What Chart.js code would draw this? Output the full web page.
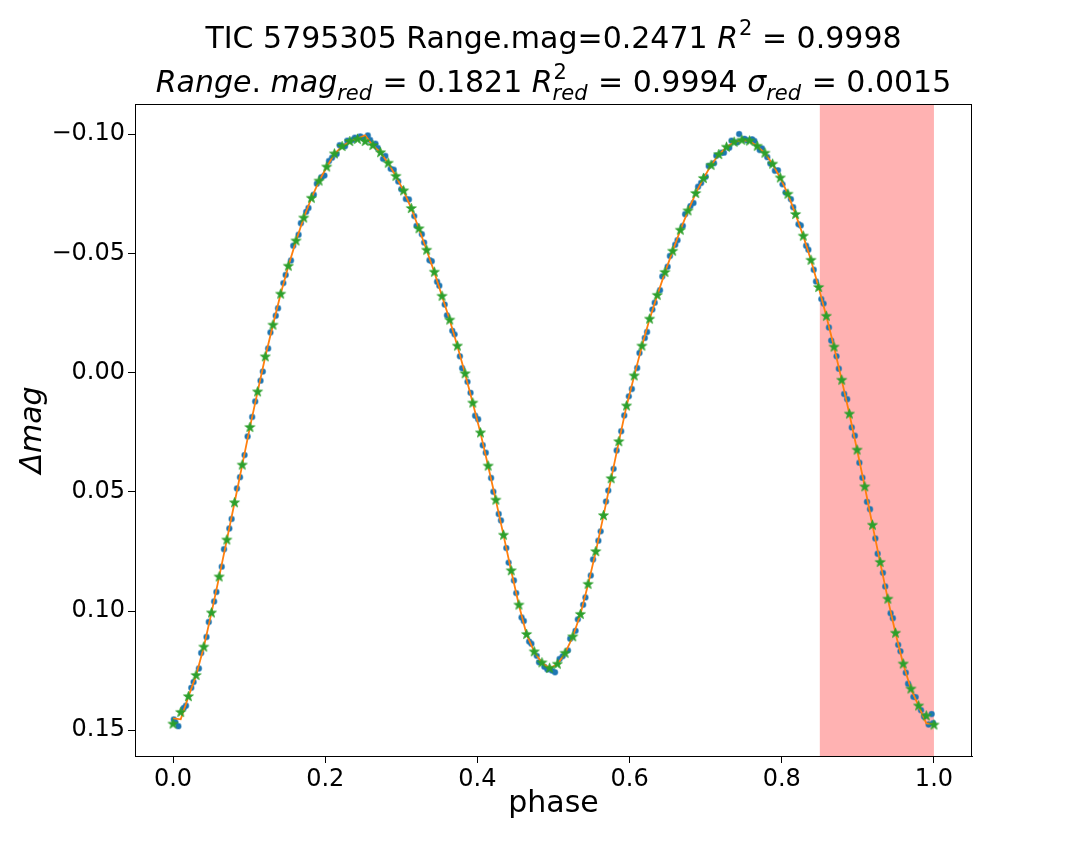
<!DOCTYPE html>
<html>
<head>
<meta charset="utf-8">
<script src="https://cdn.jsdelivr.net/npm/chart.js@4.4.1/dist/chart.umd.min.js"></script>
<style>
  body { margin: 0; background: #fff; }
  #canvas { display: block; }
</style>
</head>
<body>
<canvas id="canvas" width="1080" height="864"></canvas>
<script>
// phase bins (green stars) and binned delta mag
const starPhase = [
  0.0000, 0.0101, 0.0202, 0.0303, 0.0404, 0.0505, 0.0606, 0.0707, 0.0808, 0.0909,
  0.1010, 0.1111, 0.1212, 0.1313, 0.1414, 0.1515, 0.1616, 0.1717, 0.1818, 0.1919,
  0.2020, 0.2121, 0.2222, 0.2323, 0.2424, 0.2525, 0.2626, 0.2727, 0.2828, 0.2929,
  0.3030, 0.3131, 0.3232, 0.3333, 0.3434, 0.3535, 0.3636, 0.3737, 0.3838, 0.3939,
  0.4040, 0.4141, 0.4242, 0.4343, 0.4444, 0.4545, 0.4646, 0.4747, 0.4848, 0.4949,
  0.5051, 0.5152, 0.5253, 0.5354, 0.5455, 0.5556, 0.5657, 0.5758, 0.5859, 0.5960,
  0.6061, 0.6162, 0.6263, 0.6364, 0.6465, 0.6566, 0.6667, 0.6768, 0.6869, 0.6970,
  0.7071, 0.7172, 0.7273, 0.7374, 0.7475, 0.7576, 0.7677, 0.7778, 0.7879, 0.7980,
  0.8081, 0.8182, 0.8283, 0.8384, 0.8485, 0.8586, 0.8687, 0.8788, 0.8889, 0.8990,
  0.9091, 0.9192, 0.9293, 0.9394, 0.9495, 0.9596, 0.9697, 0.9798, 0.9899, 1.0000
];
const starMag = [
  0.1474, 0.1425, 0.1359, 0.1270, 0.1151, 0.1008, 0.0857, 0.0702, 0.0546, 0.0388,
  0.0230, 0.0081, -0.0066, -0.0199, -0.0329, -0.0446, -0.0552, -0.0648, -0.0731, -0.0803,
  -0.0862, -0.0917, -0.0948, -0.0969, -0.0978, -0.0969, -0.0952, -0.0922, -0.0878, -0.0823,
  -0.0762, -0.0688, -0.0603, -0.0513, -0.0421, -0.0320, -0.0220, -0.0111, 0.0005, 0.0128,
  0.0253, 0.0392, 0.0535, 0.0682, 0.0831, 0.0975, 0.1098, 0.1171, 0.1217, 0.1240,
  0.1223, 0.1177, 0.1108, 0.1014, 0.0888, 0.0751, 0.0600, 0.0445, 0.0290, 0.0140,
  0.0014, -0.0111, -0.0224, -0.0324, -0.0420, -0.0509, -0.0597, -0.0678, -0.0751, -0.0814,
  -0.0869, -0.0914, -0.0945, -0.0966, -0.0974, -0.0971, -0.0949, -0.0920, -0.0874, -0.0816,
  -0.0748, -0.0663, -0.0572, -0.0471, -0.0357, -0.0236, -0.0107, 0.0032, 0.0174, 0.0325,
  0.0479, 0.0640, 0.0796, 0.0950, 0.1093, 0.1222, 0.1327, 0.1398, 0.1440, 0.1478
];
// fitted curve (orange) on the same phase grid
const fitMag = [
  0.1450, 0.1454, 0.1359, 0.1270, 0.1151, 0.1008, 0.0857, 0.0702, 0.0546, 0.0388,
  0.0230, 0.0081, -0.0066, -0.0199, -0.0329, -0.0446, -0.0552, -0.0648, -0.0731, -0.0803,
  -0.0862, -0.0917, -0.0948, -0.0969, -0.0981, -0.0995, -0.0952, -0.0922, -0.0878, -0.0823,
  -0.0762, -0.0688, -0.0603, -0.0513, -0.0421, -0.0320, -0.0220, -0.0111, 0.0005, 0.0128,
  0.0253, 0.0392, 0.0535, 0.0682, 0.0831, 0.0975, 0.1098, 0.1171, 0.1217, 0.1240,
  0.1223, 0.1177, 0.1108, 0.1014, 0.0888, 0.0751, 0.0600, 0.0445, 0.0290, 0.0140,
  0.0014, -0.0111, -0.0224, -0.0324, -0.0420, -0.0509, -0.0597, -0.0678, -0.0751, -0.0814,
  -0.0869, -0.0914, -0.0945, -0.0966, -0.0974, -0.0971, -0.0949, -0.0920, -0.0874, -0.0816,
  -0.0748, -0.0663, -0.0572, -0.0471, -0.0357, -0.0236, -0.0107, 0.0032, 0.0174, 0.0325,
  0.0479, 0.0640, 0.0796, 0.0950, 0.1093, 0.1222, 0.1327, 0.1398, 0.1471, 0.1474
];
// raw observations (blue dots)
const dotPhase = [
  0.003, 0.007, 0.014, 0.017, 0.024, 0.027, 0.034, 0.037, 0.044, 0.047,
  0.054, 0.057, 0.064, 0.067, 0.074, 0.077, 0.084, 0.088, 0.094, 0.098,
  0.104, 0.108, 0.115, 0.118, 0.125, 0.128, 0.135, 0.138, 0.145, 0.148,
  0.155, 0.158, 0.165, 0.168, 0.175, 0.178, 0.185, 0.189, 0.195, 0.199,
  0.205, 0.209, 0.215, 0.219, 0.226, 0.229, 0.236, 0.239, 0.246, 0.249,
  0.256, 0.259, 0.266, 0.269, 0.276, 0.279, 0.286, 0.290, 0.296, 0.300,
  0.306, 0.310, 0.317, 0.320, 0.327, 0.330, 0.337, 0.340, 0.347, 0.350,
  0.357, 0.360, 0.367, 0.370, 0.377, 0.380, 0.387, 0.391, 0.397, 0.401,
  0.407, 0.411, 0.418, 0.421, 0.428, 0.431, 0.438, 0.441, 0.448, 0.451,
  0.458, 0.461, 0.468, 0.471, 0.478, 0.481, 0.488, 0.492, 0.498, 0.502,
  0.508, 0.512, 0.519, 0.522, 0.529, 0.532, 0.539, 0.542, 0.549, 0.552,
  0.559, 0.562, 0.569, 0.572, 0.579, 0.583, 0.589, 0.593, 0.599, 0.603,
  0.610, 0.613, 0.620, 0.623, 0.630, 0.633, 0.640, 0.643, 0.650, 0.653,
  0.660, 0.663, 0.670, 0.673, 0.680, 0.684, 0.690, 0.694, 0.700, 0.704,
  0.711, 0.714, 0.721, 0.724, 0.731, 0.734, 0.741, 0.744, 0.751, 0.754,
  0.761, 0.764, 0.771, 0.774, 0.781, 0.785, 0.791, 0.795, 0.801, 0.805,
  0.812, 0.815, 0.822, 0.825, 0.832, 0.835, 0.842, 0.845, 0.852, 0.855,
  0.862, 0.865, 0.872, 0.875, 0.882, 0.886, 0.892, 0.896, 0.902, 0.906,
  0.912, 0.916, 0.923, 0.926, 0.933, 0.936, 0.943, 0.946, 0.953, 0.956,
  0.963, 0.966, 0.973, 0.976, 0.983, 0.987, 0.993, 0.997, 0.001, 0.999
];
const dotMag = [
  0.1466, 0.1483, 0.1407, 0.1397, 0.1322, 0.1298, 0.1241, 0.1176, 0.1109, 0.1046,
  0.0960, 0.0920, 0.0814, 0.0741, 0.0654, 0.0614, 0.0486, 0.0439, 0.0346, 0.0268,
  0.0186, 0.0121, 0.0034, -0.0004, -0.0101, -0.0168, -0.0238, -0.0270, -0.0375, -0.0409,
  -0.0470, -0.0532, -0.0578, -0.0626, -0.0674, -0.0690, -0.0746, -0.0792, -0.0819, -0.0826,
  -0.0887, -0.0901, -0.0916, -0.0953, -0.0949, -0.0972, -0.0975, -0.0985, -0.0990, -0.0985,
  -0.0994, -0.0975, -0.0960, -0.0942, -0.0896, -0.0908, -0.0854, -0.0851, -0.0801, -0.0769,
  -0.0728, -0.0726, -0.0656, -0.0615, -0.0580, -0.0545, -0.0471, -0.0467, -0.0381, -0.0364,
  -0.0285, -0.0240, -0.0175, -0.0160, -0.0068, -0.0018, 0.0039, 0.0085, 0.0181, 0.0196,
  0.0305, 0.0336, 0.0442, 0.0500, 0.0593, 0.0620, 0.0736, 0.0797, 0.0872, 0.0925,
  0.1027, 0.1042, 0.1128, 0.1137, 0.1188, 0.1215, 0.1234, 0.1245, 0.1250, 0.1257,
  0.1201, 0.1190, 0.1165, 0.1116, 0.1083, 0.1035, 0.0974, 0.0943, 0.0851, 0.0784,
  0.0705, 0.0666, 0.0541, 0.0495, 0.0404, 0.0327, 0.0246, 0.0180, 0.0100, 0.0069,
  -0.0019, -0.0082, -0.0145, -0.0170, -0.0264, -0.0293, -0.0345, -0.0403, -0.0444, -0.0489,
  -0.0536, -0.0555, -0.0615, -0.0664, -0.0698, -0.0711, -0.0779, -0.0795, -0.0821, -0.0866,
  -0.0878, -0.0909, -0.0922, -0.0922, -0.0943, -0.0972, -0.0965, -0.1000, -0.0980, -0.0974,
  -0.0978, -0.0971, -0.0933, -0.0940, -0.0903, -0.0876, -0.0846, -0.0848, -0.0789, -0.0755,
  -0.0727, -0.0693, -0.0622, -0.0617, -0.0532, -0.0515, -0.0431, -0.0382, -0.0308, -0.0289,
  -0.0189, -0.0134, -0.0068, -0.0016, 0.0090, 0.0112, 0.0230, 0.0265, 0.0378, 0.0441,
  0.0542, 0.0573, 0.0696, 0.0760, 0.0840, 0.0897, 0.1009, 0.1030, 0.1142, 0.1169,
  0.1259, 0.1305, 0.1360, 0.1361, 0.1416, 0.1442, 0.1476, 0.1432, 0.1455, 0.1470
];
const phaseTicks = [0.0, 0.2, 0.4, 0.6, 0.8, 1.0];
const magTicks = [-0.10, -0.05, 0.00, 0.05, 0.10, 0.15];
const redBand = [0.85, 1.0];

const FONT = "'DejaVu Sans', sans-serif";

// filled star marker like matplotlib '*'
function makeStar(r, fill, edge) {
  const c = document.createElement('canvas');
  const s = Math.ceil(r * 2 + 4);
  c.width = s; c.height = s;
  const g = c.getContext('2d');
  g.beginPath();
  for (let i = 0; i < 10; i++) {
    const rr = i % 2 === 0 ? r : r * 0.4;
    const a = -Math.PI / 2 + i * Math.PI / 5;
    const px = s / 2 + rr * Math.cos(a), py = s / 2 + rr * Math.sin(a);
    if (i === 0) g.moveTo(px, py); else g.lineTo(px, py);
  }
  g.closePath();
  g.fillStyle = fill; g.fill();
  g.strokeStyle = edge; g.lineWidth = 0.8; g.stroke();
  return c;
}
const starImg = makeStar(5.2, '#2ca02c', '#2ca02c');

// rich text for the math-like title
function segWidth(g, s, size, small) {
  if (s.sup !== undefined || s.sub !== undefined) {
    g.font = small + 'px ' + FONT;
    const w1 = s.sup !== undefined ? g.measureText(s.sup).width : 0;
    g.font = 'italic ' + small + 'px ' + FONT;
    const w2 = s.sub !== undefined ? g.measureText(s.sub).width : 0;
    return Math.max(w1, w2) + 1;
  }
  g.font = (s.i ? 'italic ' : '') + size + 'px ' + FONT;
  return g.measureText(s.t).width;
}
function drawRich(g, segs, cx, y, size) {
  const small = Math.round(size * 0.7);
  let total = 0;
  segs.forEach(s => { total += segWidth(g, s, size, small); });
  let x = cx - total / 2;
  g.fillStyle = '#000';
  g.textBaseline = 'alphabetic';
  g.textAlign = 'left';
  segs.forEach(s => {
    const w = segWidth(g, s, size, small);
    if (s.sup !== undefined || s.sub !== undefined) {
      if (s.sup !== undefined) {
        g.font = small + 'px ' + FONT;
        g.fillText(s.sup, x + 1, y - size * 0.42);
      }
      if (s.sub !== undefined) {
        g.font = 'italic ' + small + 'px ' + FONT;
        g.fillText(s.sub, x, y + size * 0.26);
      }
    } else {
      g.font = (s.i ? 'italic ' : '') + size + 'px ' + FONT;
      g.fillText(s.t, x, y);
    }
    x += w;
  });
}

const titleLine1 = [
  { t: 'TIC 5795305 Range.mag=0.2471 ' }, { t: 'R', i: true }, { sup: '2' }, { t: ' = 0.9998' }
];
const titleLine2 = [
  { t: 'Range', i: true }, { t: '. ' }, { t: 'mag', i: true }, { sub: 'red' },
  { t: ' = 0.1821 ' }, { t: 'R', i: true }, { sup: '2', sub: 'red' },
  { t: ' = 0.9994 ' }, { t: 'σ', i: true }, { sub: 'red' }, { t: ' = 0.0015' }
];

const decorPlugin = {
  id: 'decor',
  beforeDraw(chart) {
    const g = chart.ctx;
    g.save();
    g.fillStyle = '#fff';
    g.fillRect(0, 0, chart.width, chart.height);
    g.restore();
  },
  beforeDatasetsDraw(chart) {
    const g = chart.ctx, a = chart.chartArea, xs = chart.scales.x;
    const x0 = xs.getPixelForValue(redBand[0]), x1 = xs.getPixelForValue(redBand[1]);
    g.save();
    g.fillStyle = 'rgba(255,0,0,0.3)';
    g.fillRect(x0, a.top, x1 - x0, a.bottom - a.top);
    g.restore();
  },
  afterDraw(chart) {
    const g = chart.ctx, a = chart.chartArea;
    g.save();
    g.strokeStyle = '#000';
    g.lineWidth = 1;
    g.strokeRect(Math.round(a.left) + 0.5, Math.round(a.top) + 0.5,
      Math.round(a.right - a.left) - 1, Math.round(a.bottom - a.top));
    const cx = (a.left + a.right) / 2;
    drawRich(g, titleLine1, cx, 48, 30);
    drawRich(g, titleLine2, cx, 92, 30);
    // axis labels
    g.fillStyle = '#000';
    g.font = '30px ' + FONT;
    g.textAlign = 'center';
    g.textBaseline = 'alphabetic';
    g.fillText('phase', cx, 812);
    g.translate(41, (a.top + a.bottom) / 2);
    g.rotate(-Math.PI / 2);
    g.font = 'italic 30px ' + FONT;
    g.fillText('Δmag', 0, 0);
    g.restore();
  }
};

const ctx = document.getElementById('canvas').getContext('2d');
const chart = new Chart(ctx, {
  type: 'scatter',
  data: {
    datasets: [
      {
        label: 'data',
        data: dotPhase.map((p, i) => ({ x: p, y: dotMag[i] })),
        backgroundColor: '#1f77b4',
        borderColor: 'rgba(31,119,180,0.5)',
        pointRadius: 2.7,
        borderWidth: 1.4,
        order: 3
      },
      {
        label: 'fit',
        type: 'line',
        data: starPhase.map((p, i) => ({ x: p, y: fitMag[i] })),
        borderColor: '#ff7f0e',
        borderWidth: 1.8,
        pointRadius: 0,
        fill: false,
        tension: 0,
        order: 2
      },
      {
        label: 'binned',
        data: starPhase.map((p, i) => ({ x: p, y: starMag[i] })),
        pointStyle: starImg,
        order: 1
      }
    ]
  },
  options: {
    responsive: false,
    animation: false,
    devicePixelRatio: 1,
    layout: { padding: { top: 104, right: 108, left: 0, bottom: 0 } },
    plugins: { legend: { display: false }, tooltip: { enabled: false } },
    scales: {
      x: {
        type: 'linear',
        min: -0.05,
        max: 1.05,
        afterBuildTicks: s => { s.ticks = phaseTicks.map(v => ({ value: v })); },
        afterFit: s => { s.height = 108; },
        grid: { drawOnChartArea: false, drawTicks: true, tickLength: 7, color: '#000', lineWidth: 1 },
        border: { display: true, color: '#000', width: 1 },
        ticks: {
          color: '#000', padding: 2, maxRotation: 0, autoSkip: false,
          font: { family: FONT, size: 24 },
          callback: v => Number(v).toFixed(1)
        }
      },
      y: {
        type: 'linear',
        reverse: true,
        min: -0.1126,
        max: 0.1608,
        afterBuildTicks: s => { s.ticks = magTicks.map(v => ({ value: v })); },
        afterFit: s => { s.width = 135; },
        grid: { drawOnChartArea: false, drawTicks: true, tickLength: 7, color: '#000', lineWidth: 1 },
        border: { display: true, color: '#000', width: 1 },
        ticks: {
          color: '#000', padding: 3, autoSkip: false,
          font: { family: FONT, size: 24 },
          callback: v => (v < 0 ? '\u2212' : '') + Math.abs(v).toFixed(2)
        }
      }
    }
  },
  plugins: [decorPlugin]
});
</script>
</body>
</html>
